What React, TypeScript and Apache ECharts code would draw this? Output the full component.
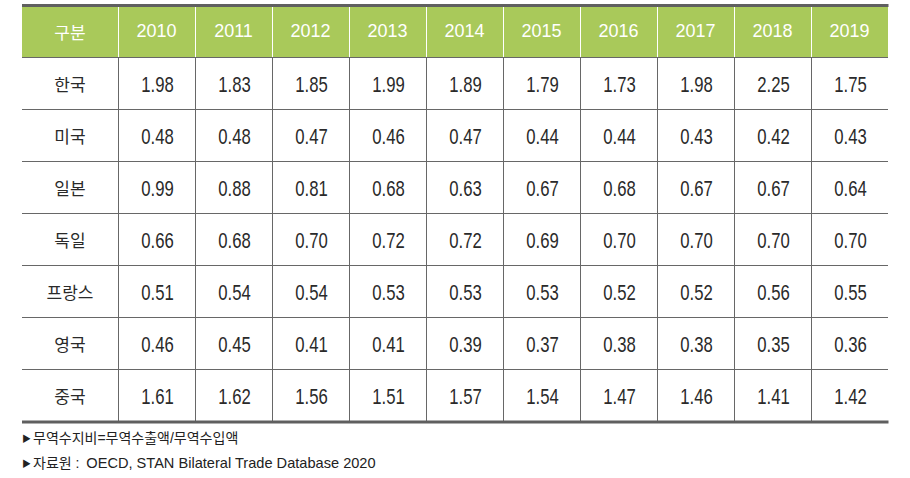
import React, { useEffect, useRef } from "react";
import * as echarts from "echarts";

const years = ["2010", "2011", "2012", "2013", "2014", "2015", "2016", "2017", "2018", "2019"];
const countries = ["한국", "미국", "일본", "독일", "프랑스", "영국", "중국"];
const korea = [1.98, 1.83, 1.85, 1.99, 1.89, 1.79, 1.73, 1.98, 2.25, 1.75];
const usa = [0.48, 0.48, 0.47, 0.46, 0.47, 0.44, 0.44, 0.43, 0.42, 0.43];
const japan = [0.99, 0.88, 0.81, 0.68, 0.63, 0.67, 0.68, 0.67, 0.67, 0.64];
const germany = [0.66, 0.68, 0.7, 0.72, 0.72, 0.69, 0.7, 0.7, 0.7, 0.7];
const france = [0.51, 0.54, 0.54, 0.53, 0.53, 0.53, 0.52, 0.52, 0.56, 0.55];
const uk = [0.46, 0.45, 0.41, 0.41, 0.39, 0.37, 0.38, 0.38, 0.35, 0.36];
const china = [1.61, 1.62, 1.56, 1.51, 1.57, 1.54, 1.47, 1.46, 1.41, 1.42];
const headerLabel = "구분";
const note1 = "무역수지비=무역수출액/무역수입액";
const note2Label = "자료원 : ";
const note2Source = "OECD, STAN Bilateral Trade Database 2020";

const rows = [korea, usa, japan, germany, france, uk, china];

const NUM_FONT = "'Liberation Sans', Arial, sans-serif";
const KR_FONT = "'Noto Sans CJK KR', 'Noto Sans', sans-serif";
const NOTE_FONT = "'Liberation Sans', 'Noto Sans CJK KR', sans-serif";
const GREEN = "#a9c95a";
const LINE = "#676767";

export default function App() {
  const ref = useRef<HTMLDivElement>(null);
  useEffect(() => {
    if (!ref.current) return;
    const chart = echarts.init(ref.current, undefined, { renderer: "svg" });
    const data: any[] = [];
    rows.forEach((r, yi) => r.forEach((v, xi) => data.push([xi, yi, v])));
    chart.setOption({
      animation: false,
      backgroundColor: "#fff",
      grid: { left: 118, right: 22, top: 57, bottom: 57 },
      xAxis: {
        type: "category",
        position: "top",
        data: years,
        axisLine: { show: false },
        axisTick: { show: true, length: 50, lineStyle: { color: "#ffffff", width: 1 } },
        axisLabel: {
          color: "#ffffff",
          fontSize: 18,
          fontFamily: NUM_FONT,
          verticalAlign: "middle",
          margin: 26,
        },
        splitLine: { show: true, showMaxLine: false, lineStyle: { color: LINE, width: 1 } },
      },
      yAxis: {
        type: "category",
        inverse: true,
        data: countries,
        axisLine: { show: false },
        axisTick: { show: true, length: 96, lineStyle: { color: LINE, width: 1 } },
        axisLabel: {
          color: "#2a2a2a",
          fontSize: 17,
          fontFamily: KR_FONT,
          align: "center",
          margin: 48,
        },
        splitLine: { show: true, lineStyle: { color: LINE, width: 1 } },
      },
      graphic: [
        { type: "rect", z: -10, shape: { x: 22, y: 7, width: 866.5, height: 50 }, style: { fill: GREEN } },
        { type: "rect", z: 10, shape: { x: 22, y: 4, width: 866.5, height: 3 }, style: { fill: "#5f5f5f" } },
        { type: "rect", z: 10, shape: { x: 22, y: 420.5, width: 866.5, height: 3 }, style: { fill: "#5f5f5f" } },
        {
          type: "text",
          z: 10,
          style: {
            x: 70, y: 31, text: headerLabel, align: "center", verticalAlign: "middle",
            fill: "#ffffff", font: `17px ${KR_FONT}`,
          },
        },
        {
          type: "text",
          z: 10,
          style: {
            x: 22, y: 438, text: "{t|▶}{s|" + note1 + "}", verticalAlign: "middle",
            rich: {
              t: { fontSize: 9, fill: "#222", fontFamily: KR_FONT, padding: [0, 2, 0, 0] },
              s: { fontSize: 14, fill: "#222", fontFamily: NOTE_FONT },
            },
          },
        },
        {
          type: "text",
          z: 10,
          style: {
            x: 22, y: 463, text: "{t|▶}{s|" + note2Label + "}{e|" + note2Source + "}", verticalAlign: "middle",
            rich: {
              t: { fontSize: 9, fill: "#222", fontFamily: KR_FONT, padding: [0, 2, 0, 0] },
              s: { fontSize: 14, fill: "#222", fontFamily: NOTE_FONT, padding: [0, 3, 0, 0] },
              e: { fontSize: 14.6, fill: "#222", fontFamily: NOTE_FONT },
            },
          },
        },
      ],
      series: [
        {
          type: "custom",
          data,
          renderItem: (params: any, api: any) => {
            const c = api.coord([api.value(0), api.value(1)]);
            const v = api.value(2) as number;
            return {
              type: "text",
              x: c[0] + 1,
              y: c[1] + 1,
              scaleX: 0.76,
              style: {
                x: 0,
                y: 0,
                text: v.toFixed(2),
                align: "center",
                verticalAlign: "middle",
                fill: "#2a2a2a",
                font: `22px ${NUM_FONT}`,
              },
            };
          },
        },
      ],
    });
    return () => chart.dispose();
  }, []);
  return (
    <div
      ref={ref}
      style={{ position: "fixed", left: 0, top: 0, width: 910, height: 478 }}
    />
  );
}
